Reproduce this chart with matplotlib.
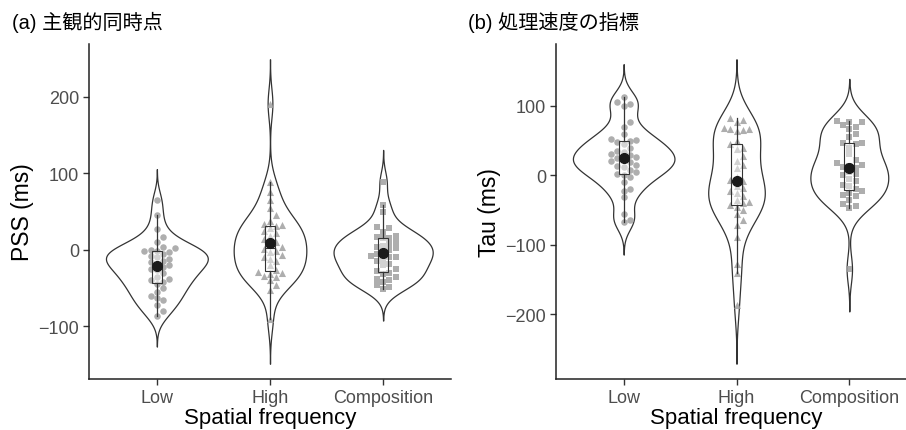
import numpy as np
import matplotlib.pyplot as plt

plt.rcParams['font.family'] = ['Liberation Sans', 'Noto Sans CJK JP', 'DejaVu Sans']

groups = ['Low', 'High', 'Composition']
markers = ['o', '^', 's']

# (a) PSS values (ms)
pss_low = [65, 45, 27, 17, 10, 3, 2, 0, -1, -2, -3, -5, -8, -10, -12, -14, -16, -18,
           -20, -22, -25, -27, -30, -35, -38, -40, -42, -45, -50, -55, -60, -63, -66,
           -72, -80, -86]
pss_high = [191, 88, 75, 65, 55, 45, 38, 34, 32, 31, 28, 25, 22, 18, 14, 10, 7, 4, 1,
            -1, -3, -7, -10, -12, -14, -20, -27, -29, -30, -32, -34, -36, -40, -46,
            -53, -91]
pss_comp = [89, 58, 50, 30, 28, 23, 18, 17, 16, 15, 10, 8, 5, 3, 2, 0, -3, -5, -8, -10,
            -10, -12, -15, -18, -20, -25, -28, -30, -32, -35, -38, -40, -42, -46, -48,
            -51]

# (b) Tau values (ms)
tau_low = [113, 105, 102, 100, 76, 70, 60, 52, 51, 50, 48, 45, 40, 35, 33, 30, 29, 27,
           25, 24, 20, 19, 15, 14, 12, 8, 5, 2, 0, -2, -10, -20, -22, -31, -55, -64, -67]
tau_high = [82, 80, 76, 68, 67, 66, 65, 64, 50, 45, 40, 38, 28, 20, 15, 10, -3, -7, -8,
            -15, -18, -22, -26, -30, -35, -38, -40, -42, -45, -50, -55, -64, -71, -88,
            -128, -140, -186]
tau_comp = [78, 77, 76, 73, 70, 66, 60, 55, 47, 46, 45, 40, 30, 22, 18, 15, 14, 12, 11,
            5, 2, 0, -5, -8, -14, -16, -20, -22, -25, -28, -30, -36, -41, -44, -47, -135]

panels = [
    ('(a) 主観的同時点', 'PSS (ms)', [pss_low, pss_high, pss_comp]),
    ('(b) 処理速度の指標', 'Tau (ms)', [tau_low, tau_high, tau_comp]),
]

LINE = '#333333'
PT = '#a0a0a0'


def nrd0(v):
    v = np.asarray(v, float)
    sd = v.std(ddof=1)
    iqr = np.subtract(*np.percentile(v, [75, 25]))
    lo = min(sd, iqr / 1.34)
    return 0.9 * lo * len(v) ** -0.2


def kde(v):
    v = np.asarray(v, float)
    bw = nrd0(v)
    grid = np.linspace(v.min() - 3 * bw, v.max() + 3 * bw, 512)
    d = np.exp(-0.5 * ((grid[:, None] - v[None, :]) / bw) ** 2).sum(1)
    d /= len(v) * bw * np.sqrt(2 * np.pi)
    return grid, d


def swarm(ax, xc, vals, diam=6.2):
    # simple beeswarm in pixel space
    vals = np.asarray(vals, float)
    pix = ax.transData.transform(np.column_stack([np.full(len(vals), xc), vals]))
    x0 = pix[0, 0]
    placed = []
    out = np.zeros(len(vals))
    for i in np.argsort(vals):
        py = pix[i, 1]
        k = 0
        while True:
            for sgn in ([0] if k == 0 else [1, -1]):
                px = x0 + sgn * k * diam
                if all((px - qx) ** 2 + (py - qy) ** 2 >= (diam * 0.95) ** 2 for qx, qy in placed):
                    break
            else:
                k += 1
                continue
            break
        placed.append((px, py))
        out[i] = ax.transData.inverted().transform((px, py))[0]
    return out


fig = plt.figure(figsize=(9.06, 4.31), dpi=100)
W, H = 906, 431
boxes = [(89, 451), (556, 917)]

for (title, ylab, data), (l, r), tx in zip(panels, boxes, [12, 468]):
    ax = fig.add_axes([l / W, 51 / H, (r - l) / W, 335 / H])
    dens = [kde(v) for v in data]
    dmax = max(d.max() for _, d in dens)
    lo = min(g.min() for g, _ in dens)
    hi = max(g.max() for g, _ in dens)
    pad = 0.05 * (hi - lo)
    ax.set_ylim(lo - pad, hi + pad)
    ax.set_xlim(0.4, 3.6)

    for i, (v, (g, d), m) in enumerate(zip(data, dens, markers)):
        xc = i + 1
        w = 0.45 * d / dmax
        ax.fill_betweenx(g, xc - w, xc + w, facecolor='white', edgecolor=LINE, lw=0.9, zorder=1)
        xs = swarm(ax, xc, v)
        ax.scatter(xs, v, marker=m, s=22 if m != '^' else 26, color=PT, alpha=0.85,
                   linewidths=0, zorder=2)
        ax.boxplot([v], positions=[xc], widths=0.09, whis=1.5, showfliers=False,
                   showcaps=False, patch_artist=True, manage_ticks=False,
                   boxprops=dict(facecolor=(1, 1, 1, 0.45), edgecolor=LINE, lw=0.8),
                   medianprops=dict(color=LINE, lw=0.8),
                   whiskerprops=dict(color=LINE, lw=0.9), zorder=3)
        ax.plot(xc, np.mean(v), 'o', color='#1a1a1a', ms=7, zorder=4)

    ax.set_xticks([1, 2, 3])
    ax.set_xticklabels(groups)
    ax.yaxis.set_major_locator(plt.MultipleLocator(100))
    for s in ['top', 'right']:
        ax.spines[s].set_visible(False)
    for s in ['left', 'bottom']:
        ax.spines[s].set_color('#222222')
        ax.spines[s].set_linewidth(1.1)
    ax.tick_params(length=4, width=1.0, color='#333333', labelcolor='#4d4d4d',
                   labelsize=13, pad=3)
    ax.set_xlabel('Spatial frequency', fontsize=16, labelpad=1)
    ax.set_ylabel(ylab, fontsize=16.5, labelpad=3)
    fig.text(tx / W, 1 - 22 / H, title, fontsize=14.5, ha='left', va='center')

fig.savefig('out.png', dpi=100)
